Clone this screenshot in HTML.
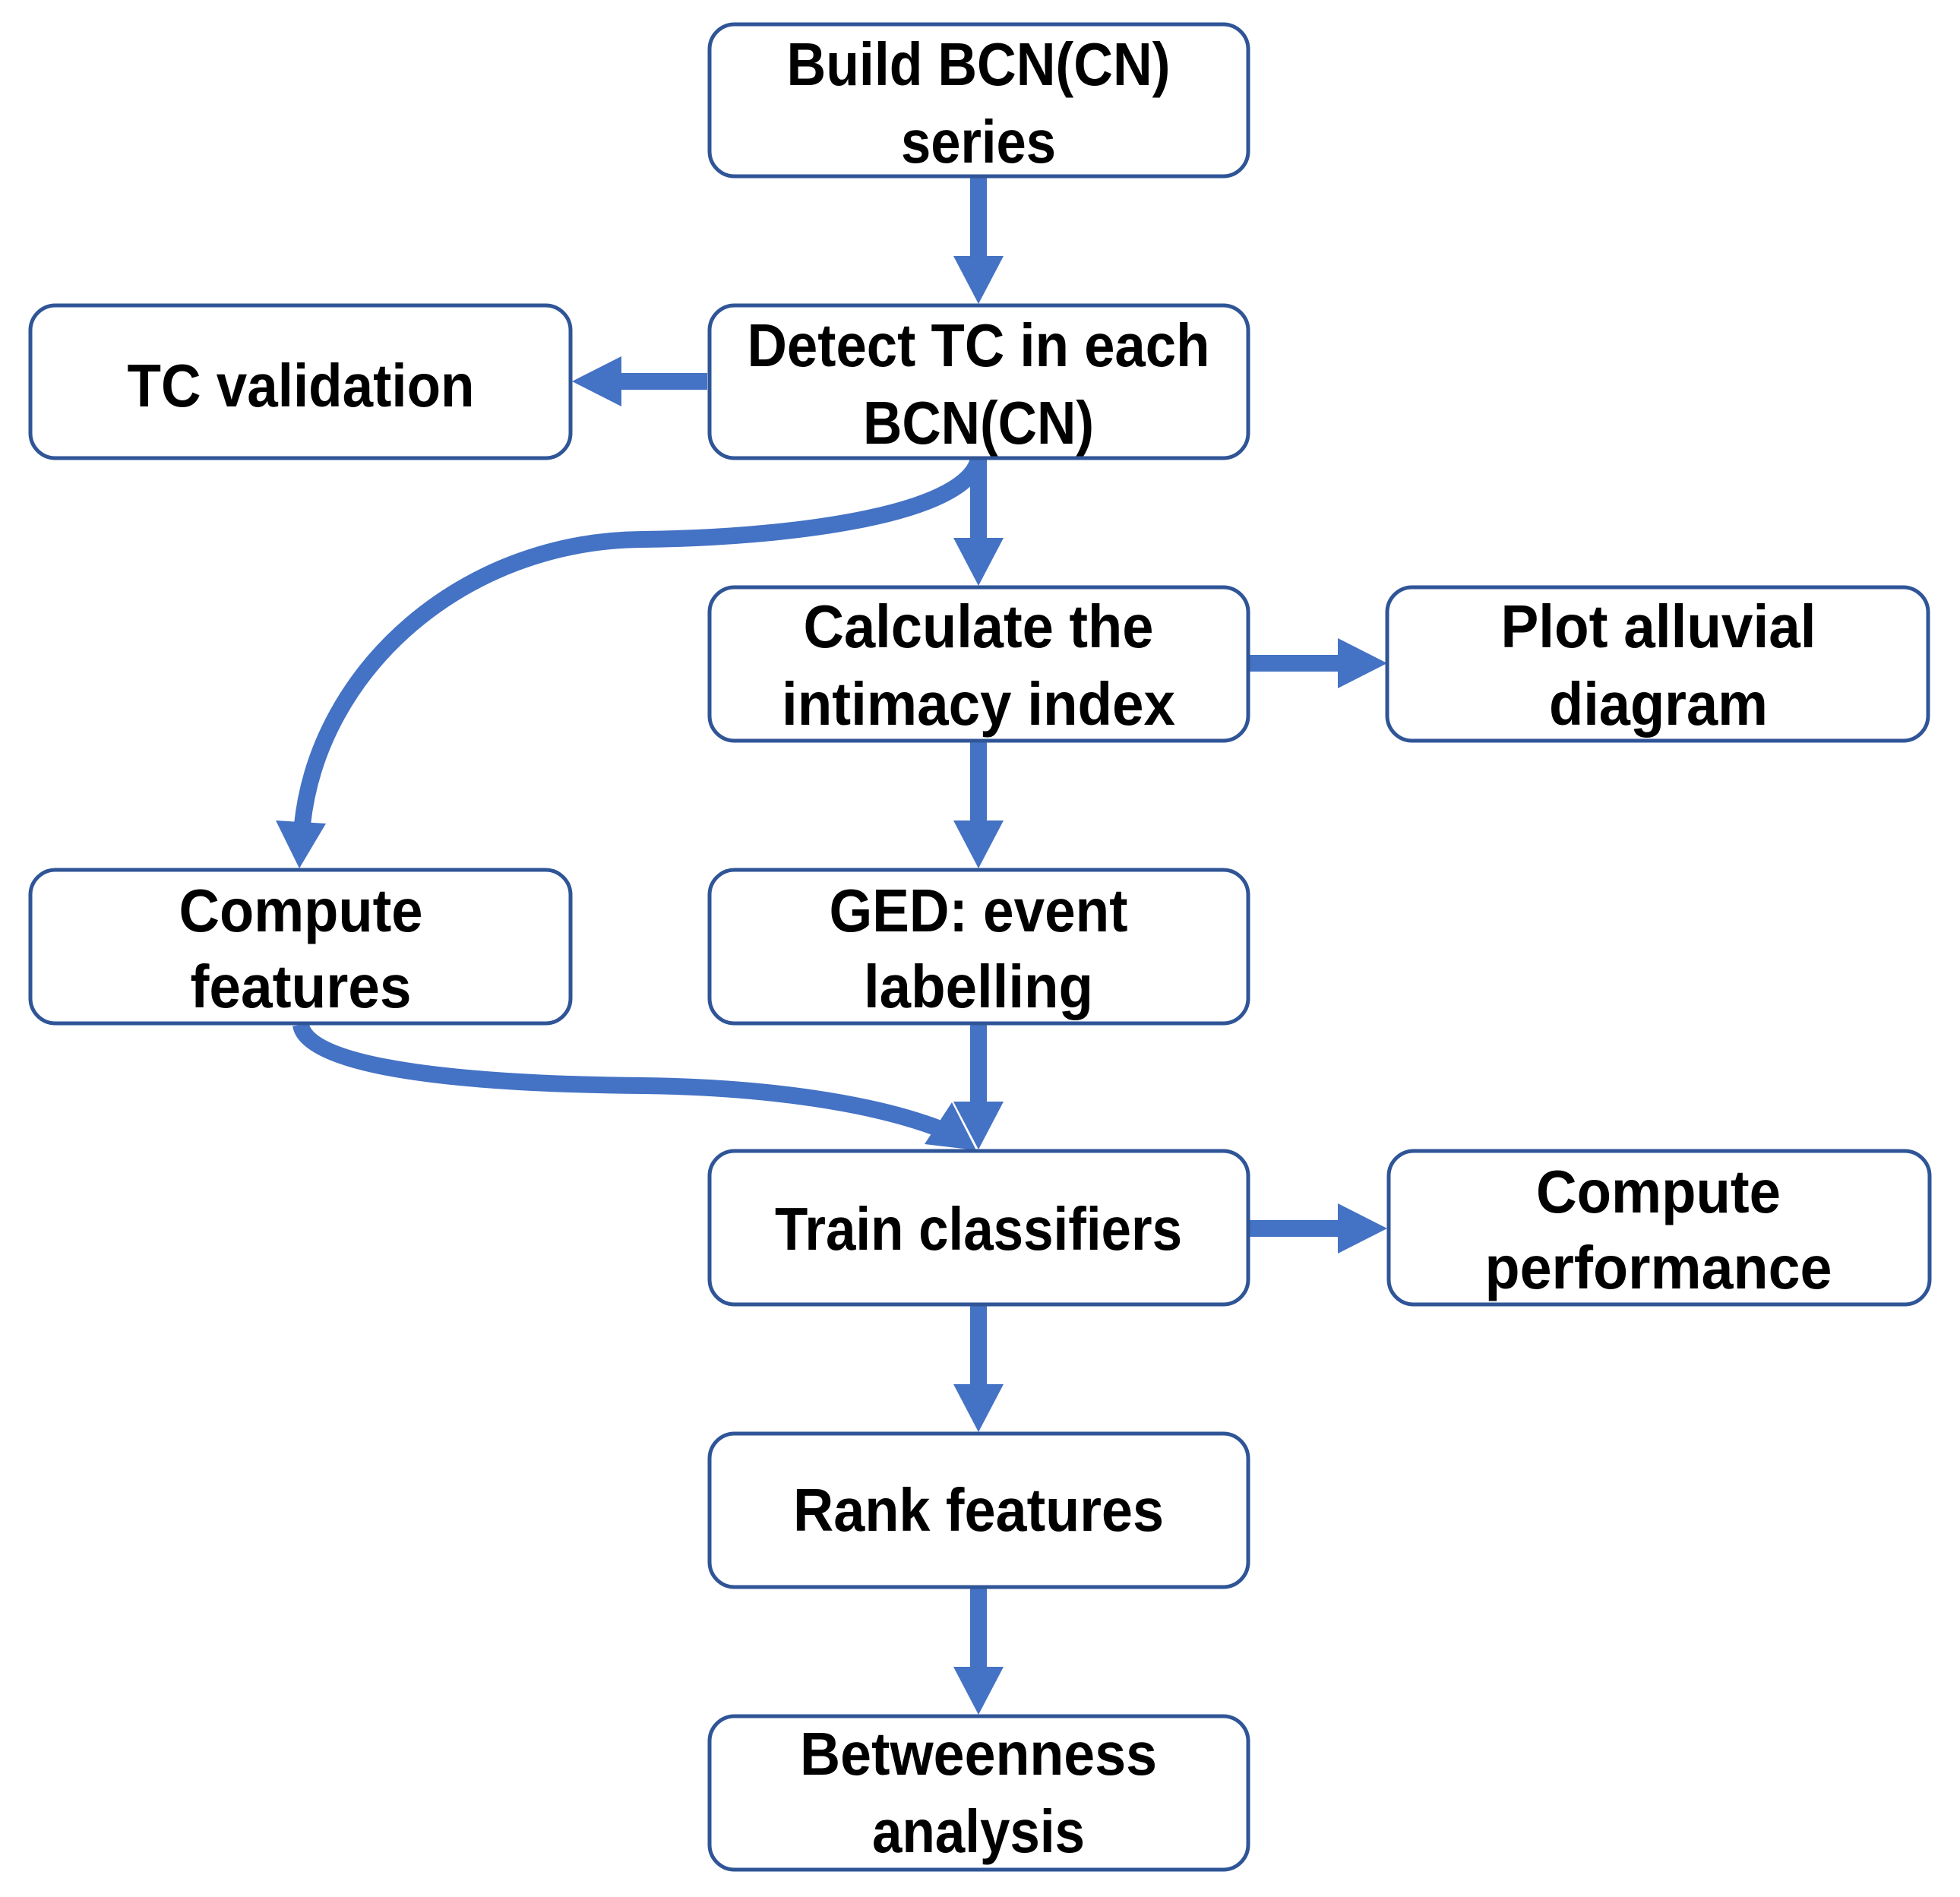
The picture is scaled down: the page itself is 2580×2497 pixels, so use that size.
<!DOCTYPE html>
<html><head><meta charset="utf-8"><style>
html,body{margin:0;padding:0;background:#fff;}
svg{display:block;}
text{font-family:"Liberation Sans",sans-serif;font-weight:bold;font-size:80px;fill:#000;}
</style></head><body>
<svg width="2580" height="2497" viewBox="0 0 2580 2497" xmlns="http://www.w3.org/2000/svg">
<g fill="#4472c4" stroke="none">
  <rect x="1277" y="234" width="22" height="103"/><polygon points="1255,337 1321,337 1288,400"/>
  <rect x="1277" y="605" width="22" height="103"/><polygon points="1255,708 1321,708 1288,771"/>
  <rect x="1277" y="977" width="22" height="103"/><polygon points="1255,1080 1321,1080 1288,1143"/>
  <rect x="1277" y="1349" width="22" height="101"/><polygon points="1255,1450 1321,1450 1288,1513"/>
  <rect x="1277" y="1719" width="22" height="103"/><polygon points="1255,1822 1321,1822 1288,1885"/>
  <rect x="1277" y="2091" width="22" height="103"/><polygon points="1255,2194 1321,2194 1288,2257"/>
  <rect x="818" y="491" width="113" height="22"/><polygon points="818,469 818,535 753,502"/>
  <rect x="1645" y="862" width="116" height="22"/><polygon points="1761,840 1761,906 1826,873"/>
  <rect x="1645" y="1606" width="116" height="22"/><polygon points="1761,1584 1761,1650 1826,1617"/>
  <polygon points="363,1080 429,1084 394,1143"/>
  <polygon points="1253,1451 1217,1506 1285,1514"/>
</g>
<g fill="none" stroke="#4472c4" stroke-width="22">
  <path d="M1288 605 C1270 680 1030 708 845 710 C 610 712 420 880 398 1085"/>
  <path d="M396 1349 C405 1410 640 1427 845 1429 C 1010 1431 1150 1452 1240 1487"/>
</g>
<g fill="#fff" stroke="#2f5597" stroke-width="5">
  <rect x="934" y="32" width="709" height="200" rx="33"/>
  <rect x="40" y="402" width="711" height="201" rx="33"/>
  <rect x="934" y="402" width="709" height="201" rx="33"/>
  <rect x="934" y="773" width="709" height="202" rx="33"/>
  <rect x="1826" y="773" width="712" height="202" rx="33"/>
  <rect x="40" y="1145" width="711" height="202" rx="33"/>
  <rect x="934" y="1145" width="709" height="202" rx="33"/>
  <rect x="934" y="1515" width="709" height="202" rx="33"/>
  <rect x="1828" y="1515" width="712" height="202" rx="33"/>
  <rect x="934" y="1887" width="709" height="202" rx="33"/>
  <rect x="934" y="2259" width="709" height="202" rx="33"/>
</g>
<g text-anchor="middle">
  <text x="1288" y="112" textLength="505" lengthAdjust="spacingAndGlyphs">Build BCN(CN)</text>
  <text x="1288" y="214" textLength="204" lengthAdjust="spacingAndGlyphs">series</text>
  <text x="396" y="535" textLength="457" lengthAdjust="spacingAndGlyphs">TC validation</text>
  <text x="1288" y="482" textLength="609" lengthAdjust="spacingAndGlyphs">Detect TC in each</text>
  <text x="1288" y="584" textLength="304" lengthAdjust="spacingAndGlyphs">BCN(CN)</text>
  <text x="1288" y="852" textLength="461" lengthAdjust="spacingAndGlyphs">Calculate the</text>
  <text x="1288" y="954" textLength="518" lengthAdjust="spacingAndGlyphs">intimacy index</text>
  <text x="2183" y="852" textLength="415" lengthAdjust="spacingAndGlyphs">Plot alluvial</text>
  <text x="2183" y="954" textLength="288" lengthAdjust="spacingAndGlyphs">diagram</text>
  <text x="396" y="1226" textLength="321" lengthAdjust="spacingAndGlyphs">Compute</text>
  <text x="396" y="1326" textLength="291" lengthAdjust="spacingAndGlyphs">features</text>
  <text x="1288" y="1226" textLength="393" lengthAdjust="spacingAndGlyphs">GED: event</text>
  <text x="1288" y="1326" textLength="302" lengthAdjust="spacingAndGlyphs">labelling</text>
  <text x="1288" y="1645" textLength="536" lengthAdjust="spacingAndGlyphs">Train classifiers</text>
  <text x="2183" y="1596" textLength="322" lengthAdjust="spacingAndGlyphs">Compute</text>
  <text x="2183" y="1696" textLength="457" lengthAdjust="spacingAndGlyphs">performance</text>
  <text x="1288" y="2015" textLength="488" lengthAdjust="spacingAndGlyphs">Rank features</text>
  <text x="1288" y="2336" textLength="470" lengthAdjust="spacingAndGlyphs">Betweenness</text>
  <text x="1288" y="2438" textLength="280" lengthAdjust="spacingAndGlyphs">analysis</text>
</g>
</svg>
</body></html>
